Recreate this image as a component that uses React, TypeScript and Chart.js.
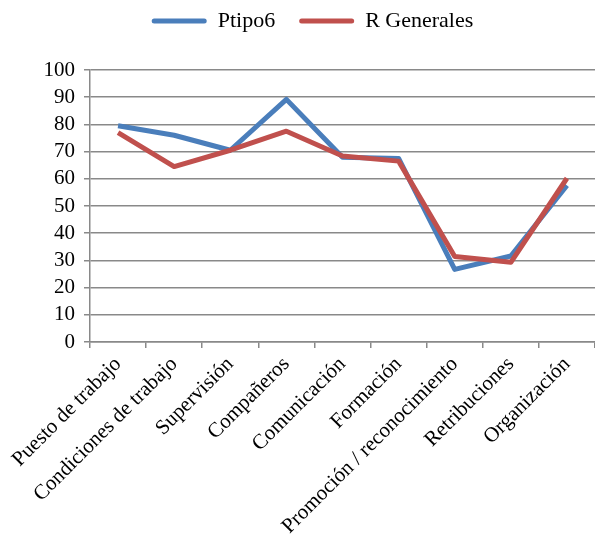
import React, { useEffect, useRef } from "react";
import { Chart, registerables } from "chart.js";

Chart.register(...registerables);

const categories = [
  "Puesto de trabajo",
  "Condiciones de trabajo",
  "Supervisión",
  "Compañeros",
  "Comunicación",
  "Formación",
  "Promoción / reconocimiento",
  "Retribuciones",
  "Organización",
];
const ptipo6 = [79.5, 76, 70.5, 89.2, 67.9, 67.5, 26.7, 31.6, 57.6];
const rGenerales = [77, 64.5, 70.5, 77.5, 68.4, 66.5, 31.4, 29.3, 60.2];
const yTicks = [0, 10, 20, 30, 40, 50, 60, 70, 80, 90, 100];

const FONT = '"Liberation Serif", "Times New Roman", serif';
const BLUE = "#4a7ebb";
const RED = "#c0504d";
const GRID = "#898989";

const legendHeightPlugin = {
  id: "legendHeight",
  beforeInit(chart: any) {
    const lg = chart.legend;
    if (!lg || lg._patched) return;
    const orig = lg.fit;
    lg.fit = function () {
      orig.call(this);
      this.height = 84;
    };
    lg._patched = true;
  },
};

export default function App() {
  const ref = useRef<HTMLCanvasElement | null>(null);
  useEffect(() => {
    if (!ref.current) return;
    const chart = new Chart(ref.current, {
      type: "line",
      data: {
        labels: categories,
        datasets: [
          {
            label: "Ptipo6",
            data: ptipo6,
            borderColor: BLUE,
            backgroundColor: BLUE,
            borderWidth: 5,
            pointRadius: 0,
            tension: 0,
            borderJoinStyle: "round",
            order: 1,
          },
          {
            label: "R Generales",
            data: rGenerales,
            borderColor: RED,
            backgroundColor: RED,
            borderWidth: 5,
            pointRadius: 0,
            tension: 0,
            borderJoinStyle: "round",
            order: 0,
          },
        ],
      },
      plugins: [legendHeightPlugin],
      options: {
        responsive: false,
        animation: false,
        devicePixelRatio: 1,
        layout: { padding: { top: -14, left: 30, right: 0, bottom: 0 } },
        plugins: {
          tooltip: { enabled: false },
          legend: {
            position: "top",
            labels: {
              color: "#000",
              font: { family: FONT, size: 22 },
              boxWidth: 55,
              boxHeight: 5,
              padding: 24,
              sort: (a: any, b: any) => a.datasetIndex - b.datasetIndex,
              generateLabels: (chart: any) =>
                chart.data.datasets.map((ds: any, i: number) => ({
                  text: ds.label,
                  fillStyle: ds.borderColor,
                  strokeStyle: ds.borderColor,
                  lineWidth: 0,
                  fontColor: "#000",
                  hidden: false,
                  datasetIndex: i,
                  borderRadius: 2.5,
                })),
            },
          },
        },
        scales: {
          x: {
            offset: true,
            grid: {
              offset: true,
              drawOnChartArea: false,
              drawTicks: true,
              tickLength: 6,
              color: GRID,
              lineWidth: 1.5,
            },
            border: { color: GRID, width: 1.5 },
            ticks: {
              color: "#000",
              font: { family: FONT, size: 21 },
              maxRotation: 45,
              minRotation: 45,
              autoSkip: false,
              padding: 4,
            },
            afterFit: (scale: any) => {
              scale.height = 195;
            },
          },
          y: {
            min: 0,
            max: 100,
            afterBuildTicks: (scale: any) => {
              scale.ticks = yTicks.map((v) => ({ value: v }));
            },
            grid: {
              color: GRID,
              lineWidth: 1.5,
              drawTicks: true,
              tickLength: 6,
            },
            border: { color: GRID, width: 1.5 },
            ticks: {
              color: "#000",
              font: { family: FONT, size: 21 },
              padding: 9,
              autoSkip: false,
              stepSize: 10,
            },
            afterFit: (scale: any) => {
              scale.width = 60;
            },
          },
        },
      },
    });
    return () => chart.destroy();
  }, []);
  return (
    <div style={{ position: "fixed", left: 0, top: 0, width: 595, height: 537, background: "#fff" }}>
      <canvas ref={ref} width={595} height={537} style={{ display: "block" }} />
    </div>
  );
}
